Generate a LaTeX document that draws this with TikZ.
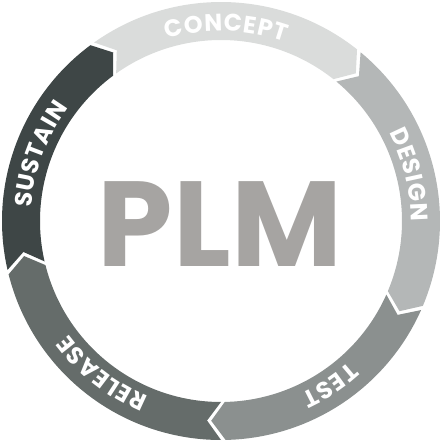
\documentclass[tikz,border=0pt]{standalone}
\usepackage{fontspec}
\setmainfont{Poppins}
\usetikzlibrary{decorations.text}
\definecolor{concept}{HTML}{DADCDB}
\definecolor{design}{HTML}{B4B7B7}
\definecolor{test}{HTML}{8B908F}
\definecolor{release}{HTML}{656C6A}
\definecolor{sustain}{HTML}{3E4646}
\definecolor{plmgray}{HTML}{A6A4A2}
\newcommand{\arcfont}{\fontsize{17}{18}\selectfont\bfseries}
\begin{document}
\begin{tikzpicture}[x=0.025cm, y=0.025cm, line join=round]
	\useasboundingbox (0,0) rectangle (442,442);
	\begin{scope}[shift={(221,221)}]
		% ring of arrows, clockwise
		\foreach \a/\b/\col/\lab in {126/51/concept/CONCEPT, 51/-23.4/design/DESIGN, -23.4/-89.4/test/TEST, -89.4/-166.5/release/RELEASE, 193.5/126/sustain/SUSTAIN}{
			\fill[\col] (\a-0.6:219) arc[start angle=\a-0.6, end angle=\b+0.6, radius=219] -- (\b-3.4:200) -- (\b+0.6:181) arc[start angle=\b+0.6, end angle=\a-0.6, radius=181] -- (\a-4.6:200) -- cycle;
			\path[decorate, decoration={text effects along path, text/.expanded=\lab, text align=center, text effects/.cd, text along path, character widths={font=\arcfont, inner xsep=0.3pt}, characters={text=white, font=\arcfont}}] (\a:190) arc[start angle=\a, end angle=\b, radius=190];
		}
	\end{scope}
	\node[anchor=base, text=plmgray, font=\fontsize{86}{90}\selectfont\bfseries] (plm) at (220,175) {PLM};
\end{tikzpicture}
\end{document}
